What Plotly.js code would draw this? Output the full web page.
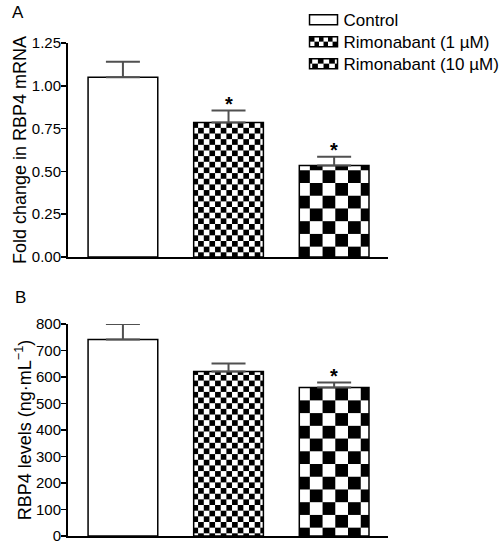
<!DOCTYPE html>
<html>
<head>
<meta charset="utf-8">
<script src="https://cdn.plot.ly/plotly-3.0.1.min.js"></script>
<style>
  html, body { margin: 0; padding: 0; background: #fff; }
  #chart { width: 502px; height: 545px; }
</style>
</head>
<body>
<div id="chart"></div>
<script>
// ---- data ----
const groups = ['Control', 'Rimonabant (1 \u00B5M)', 'Rimonabant (10 \u00B5M)'];
const mrnaMean = [1.05, 0.785, 0.535];
const mrnaSem = [0.09, 0.07, 0.05];
const mrnaSig = [false, true, true];
const rbp4Mean = [742, 621, 560];
const rbp4Sem = [58, 30, 19];
const rbp4Sig = [false, false, true];
const noLower = [0, 0, 0];

// ---- styles ----
const FONT = 'Liberation Sans, Arial, sans-serif';
const patternSizes = [0, 8, 18]; // 0 = plain white
const traces = [];

function addTrace(i, means, sems, xa, ya, showLegend) {
  const marker = {
    color: '#ffffff',
    line: { color: '#000000', width: 1.5 }
  };
  if (patternSizes[i] > 0) {
    marker.pattern = { shape: 'x', size: patternSizes[i], fgcolor: '#000000', bgcolor: '#ffffff', solidity: 0.5 };
  }
  traces.push({
    type: 'bar',
    x: [groups[i]],
    y: [means[i]],
    name: groups[i],
    legendgroup: 'g' + i,
    showlegend: showLegend,
    width: 0.66,
    marker: marker,
    cliponaxis: false,
    xaxis: xa,
    yaxis: ya,
    error_y: {
      type: 'data', symmetric: false,
      array: [sems[i]], arrayminus: [noLower[i]],
      color: '#505050', thickness: 2, width: 17
    },
    hoverinfo: 'skip'
  });
}
for (let i = 0; i < groups.length; i++) addTrace(i, mrnaMean, mrnaSem, 'x', 'y', true);
for (let i = 0; i < groups.length; i++) addTrace(i, rbp4Mean, rbp4Sem, 'x2', 'y2', false);

const STAR_FONT = { family: FONT, size: 20, color: '#000', weight: 'bold' };
const annotations = [];
groups.forEach((g, i) => {
  if (mrnaSig[i]) annotations.push({ x: g, y: mrnaMean[i] + mrnaSem[i], xref: 'x', yref: 'y', text: '*', showarrow: false, yanchor: 'bottom', yshift: -6, font: STAR_FONT });
  if (rbp4Sig[i]) annotations.push({ x: g, y: rbp4Mean[i] + rbp4Sem[i], xref: 'x2', yref: 'y2', text: '*', showarrow: false, yanchor: 'bottom', yshift: -6, font: STAR_FONT });
});
annotations.push({ xref: 'paper', yref: 'paper', x: -0.156, y: 1.086, text: 'A', showarrow: false, xanchor: 'center', yanchor: 'top', font: { family: FONT, size: 17, color: '#000' } });
annotations.push({ xref: 'paper', yref: 'paper', x: -0.15, y: 0.483, text: 'B', showarrow: false, xanchor: 'center', yanchor: 'middle', font: { family: FONT, size: 17, color: '#000' } });

const xaxisBase = {
  type: 'category',
  range: [-0.52, 2.51],
  showline: true, linecolor: '#000', linewidth: 2,
  showticklabels: false, ticks: '', showgrid: false, zeroline: false, fixedrange: true
};
const yaxisBase = {
  showline: true, linecolor: '#000', linewidth: 2,
  ticks: 'outside', ticklen: 5, tickwidth: 1.5, tickcolor: '#000',
  ticklabelstandoff: -3,
  showgrid: false, zeroline: false,
  tickfont: { family: FONT, size: 15, color: '#000' },
  fixedrange: true
};

const layout = {
  width: 502, height: 545,
  margin: { l: 68, r: 114, t: 43, b: 9, autoexpand: false },
  paper_bgcolor: '#fff', plot_bgcolor: '#fff',
  barmode: 'overlay',
  showlegend: true,
  legend: {
    x: 0.736, y: 1.083, xanchor: 'left', yanchor: 'top',
    font: { family: FONT, size: 17, color: '#000' },
    bgcolor: 'rgba(0,0,0,0)', tracegroupgap: 0, itemclick: false
  },
  xaxis: Object.assign({}, xaxisBase, { domain: [0, 1], anchor: 'y' }),
  xaxis2: Object.assign({}, xaxisBase, { domain: [0, 1], anchor: 'y2' }),
  yaxis: Object.assign({}, yaxisBase, {
    domain: [0.566, 1], range: [0, 1.25], dtick: 0.25, tickformat: '.2f', anchor: 'x',
    title: { text: 'Fold change in RBP4 mRNA', font: { family: FONT, size: 18, color: '#000' }, standoff: 0 }
  }),
  yaxis2: Object.assign({}, yaxisBase, {
    domain: [0, 0.43], range: [0, 800], dtick: 100, anchor: 'x2',
    title: { text: 'RBP4 levels (ng\u00B7mL<sup>\u22121</sup>)', font: { family: FONT, size: 18, color: '#000' }, standoff: 0 }
  }),
  annotations: annotations
};

function checkerPatterns(gd) {
  const NS = 'http://www.w3.org/2000/svg';
  gd.querySelectorAll('pattern').forEach(p => {
    const w = parseFloat(p.getAttribute('width'));
    if (!w) return;
    const c = w / 2;
    while (p.firstChild) p.removeChild(p.firstChild);
    const bg = document.createElementNS(NS, 'rect');
    bg.setAttribute('x', 0); bg.setAttribute('y', 0);
    bg.setAttribute('width', w); bg.setAttribute('height', w);
    bg.setAttribute('fill', '#fff');
    p.appendChild(bg);
    [[0, 0], [c, c]].forEach(([x, y]) => {
      const r = document.createElementNS(NS, 'rect');
      r.setAttribute('x', x); r.setAttribute('y', y);
      r.setAttribute('width', c); r.setAttribute('height', c);
      r.setAttribute('fill', '#000');
      p.appendChild(r);
    });
  });
  gd.querySelectorAll('.legend .legendpoints path').forEach(path => {
    path.setAttribute('d', 'M14,5H-14V-5H14Z');
  });
  // tighten legend row spacing to match reference (~22px)
  const items = gd.querySelectorAll('.legend .traces');
  let y0 = null;
  items.forEach((g, i) => {
    const t = g.getAttribute('transform') || '';
    const m = t.match(/translate\(\s*([-\d.]+)[ ,]+([-\d.]+)\s*\)/);
    if (!m) return;
    const x = parseFloat(m[1]);
    const y = parseFloat(m[2]);
    if (y0 === null) y0 = y;
    g.setAttribute('transform', 'translate(' + x + ',' + (y0 + i * 22) + ')');
  });
}

Plotly.newPlot('chart', traces, layout, { displayModeBar: false, staticPlot: true })
  .then(gd => checkerPatterns(gd));
</script>
</body>
</html>
